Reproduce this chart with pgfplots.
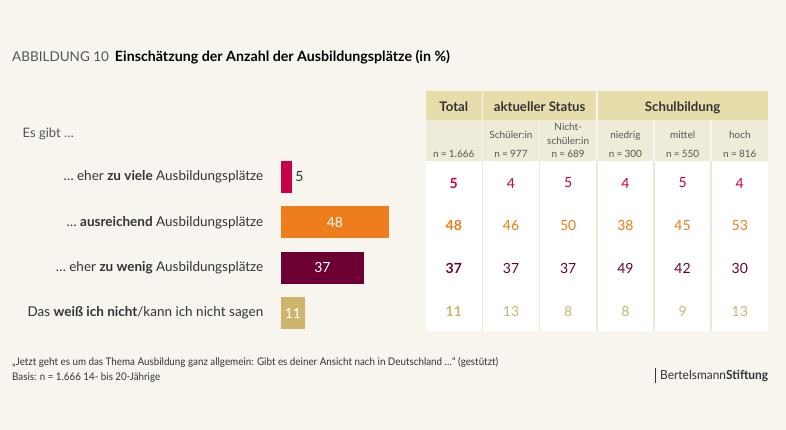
\documentclass[border=0pt]{standalone}
\usepackage{fontspec}
\setmainfont{Lato}
\usepackage{pgfplots}
\pgfplotsset{compat=1.18}
\definecolor{bg}{HTML}{F8F5EE}
\definecolor{crimson}{HTML}{C6004B}
\definecolor{orangeb}{HTML}{EE7D1B}
\definecolor{wine}{HTML}{6C0033}
\definecolor{tan}{HTML}{CDB56D}
\definecolor{hdrone}{HTML}{E6DDAB}
\definecolor{hdrtwo}{HTML}{EEEBD8}
\definecolor{sepc}{HTML}{EEE8D4}
\definecolor{txtdark}{HTML}{333333}
\definecolor{txtgray}{HTML}{555555}
\newcommand{\fs}[1]{\fontsize{#1}{#1}\selectfont}
\newcommand{\nn}[1]{n\hspace{2.2pt}=\hspace{2.2pt}#1}
\begin{document}
\begin{tikzpicture}[x=1pt,y=-1pt]
\fill[bg] (0,0) rectangle (786,430);
% title
\node[anchor=base west, inner sep=0pt] at (12,62)
  {\textcolor{txtgray}{\fs{13.5}ABBILDUNG 10}\hspace{6pt}\textcolor{black}{\fs{14.2}\bfseries Einschätzung der Anzahl der Ausbildungsplätze (in \%)}};
\node[anchor=base west, inner sep=0pt, font=\fs{13}, text=txtgray] at (22.5,138) {Es gibt …};
% table backgrounds
\fill[hdrone] (426,91) rectangle (481.6,120);
\fill[hdrone] (483.2,91) rectangle (596,120);
\fill[hdrone] (597.6,91) rectangle (767.6,120);
\fill[sepc] (426,161.5) rectangle (767.6,330.5);
\foreach \i in {0,...,5} {
  \pgfmathsetmacro\L{426+57.2*\i}
  \fill[hdrtwo] (\L,120) rectangle (\L+55.6,161.5);
  \fill[white] (\L,161.5) rectangle (\L+55.6,330.5);
}
% header texts
\begin{scope}[every node/.style={anchor=base, inner sep=0pt}]
\node[font=\fs{13.2}\bfseries, text=txtdark] at (453.8,111.7) {Total};
\node[font=\fs{13.2}\bfseries, text=txtdark] at (539.6,111.7) {aktueller Status};
\node[font=\fs{13.2}\bfseries, text=txtdark] at (682.6,111.7) {Schulbildung};
\node[font=\fs{10}, text=txtgray] at (511,138.3) {Schüler:in};
\node[font=\fs{10}, text=txtgray] at (568.2,131) {Nicht-};
\node[font=\fs{10}, text=txtgray] at (568.2,145) {schüler:in};
\node[font=\fs{10}, text=txtgray] at (625.4,138.3) {niedrig};
\node[font=\fs{10}, text=txtgray] at (682.6,138.3) {mittel};
\node[font=\fs{10}, text=txtgray] at (739.8,138.3) {hoch};
\node[font=\fs{10}, text=txtgray] at (453.8,157.5) {\nn{1.666}};
\node[font=\fs{10}, text=txtgray] at (511,157.5) {\nn{977}};
\node[font=\fs{10}, text=txtgray] at (568.2,157.5) {\nn{689}};
\node[font=\fs{10}, text=txtgray] at (625.4,157.5) {\nn{300}};
\node[font=\fs{10}, text=txtgray] at (682.6,157.5) {\nn{550}};
\node[font=\fs{10}, text=txtgray] at (739.8,157.5) {\nn{816}};
\end{scope}
% bar chart
\begin{axis}[at={(280.5pt,-154.33pt)}, anchor=north west, scale only axis,
  width=227pt, height=181.33pt, xmin=0, xmax=100, ymin=-0.5, ymax=3.5,
  y dir=reverse, xbar, bar width=32pt, axis line style={draw=none},
  major tick length=0pt, xtick=\empty, ytick={0,1,2,3},
  yticklabels={{… eher \textbf{zu viele} Ausbildungsplätze},
    {… \textbf{ausreichend} Ausbildungsplätze},
    {… eher \textbf{zu wenig} Ausbildungsplätze},
    {Das \textbf{weiß ich nicht}/kann ich nicht sagen}},
  yticklabel style={font=\fs{13.5}, text=txtdark, anchor=east, inner sep=0pt, xshift=-17pt},
  clip=false, /pgf/number format/assume math mode=true,
  nodes near coords, point meta=x,
  every node near coord/.append style={font=\fs{14}},
  visualization depends on={x \as \rawx}]
\addplot[fill=crimson, draw=none, bar shift=0pt,
  every node near coord/.append style={text=txtdark}] coordinates {(5,0)};
\addplot[fill=orangeb, draw=none, bar shift=0pt,
  every node near coord/.append style={text=white, anchor=center, shift={(axis direction cs:-\rawx/2,0)}}] coordinates {(48,1)};
\addplot[fill=wine, draw=none, bar shift=0pt,
  every node near coord/.append style={text=white, anchor=center, shift={(axis direction cs:-\rawx/2,0)}}] coordinates {(37,2)};
\addplot[fill=tan, draw=none, bar shift=0pt,
  every node near coord/.append style={text=white, anchor=center, shift={(axis direction cs:-\rawx/2,0)}}] coordinates {(11,3)};
\end{axis}
% table values
\begin{axis}[at={(425.2pt,-161.67pt)}, anchor=north west, scale only axis,
  width=343.2pt, height=170.67pt, xmin=-0.5, xmax=5.5, ymin=-0.5, ymax=3.5,
  y dir=reverse, hide axis, clip=false, /pgf/number format/assume math mode=true,
  nodes near coords, point meta=explicit,
  every node near coord/.append style={anchor=center, font=\fs{14}}]
\addplot[draw=none, mark=none, every node near coord/.append style={text=crimson, font=\fs{14}\bfseries}] coordinates {(0,0) [5]};
\addplot[draw=none, mark=none, every node near coord/.append style={text=crimson}] coordinates {(1,0) [4] (2,0) [5] (3,0) [4] (4,0) [5] (5,0) [4]};
\addplot[draw=none, mark=none, every node near coord/.append style={text=orangeb, font=\fs{14}\bfseries}] coordinates {(0,1) [48]};
\addplot[draw=none, mark=none, every node near coord/.append style={text=orangeb}] coordinates {(1,1) [46] (2,1) [50] (3,1) [38] (4,1) [45] (5,1) [53]};
\addplot[draw=none, mark=none, every node near coord/.append style={text=wine, font=\fs{14}\bfseries}] coordinates {(0,2) [37]};
\addplot[draw=none, mark=none, every node near coord/.append style={text=wine}] coordinates {(1,2) [37] (2,2) [37] (3,2) [49] (4,2) [42] (5,2) [30]};
\addplot[draw=none, mark=none, every node near coord/.append style={text=tan, font=\fs{14}\bfseries}] coordinates {(0,3) [11]};
\addplot[draw=none, mark=none, every node near coord/.append style={text=tan}] coordinates {(1,3) [13] (2,3) [8] (3,3) [8] (4,3) [9] (5,3) [13]};
\end{axis}
% footer
\node[anchor=base west, inner sep=0pt, text=txtdark] at (12,365.5)
  {\resizebox{486pt}{\height}{\fs{10.5}„Jetzt geht es um das Thema Ausbildung ganz allgemein: Gibt es deiner Ansicht nach in Deutschland …“ (gestützt)}};
\node[anchor=base west, inner sep=0pt, text=txtdark] at (12,380.5)
  {\resizebox{148pt}{\height}{\fs{10.5}Basis: n = 1.666 14- bis 20-Jährige}};
\draw[line width=1.2pt, txtdark] (655.5,367.5) -- (655.5,383);
\node[anchor=base west, inner sep=0pt, text=txtdark] at (660,379.5)
  {\resizebox{108pt}{\height}{\fs{12.5}Bertelsmann\textbf{Stiftung}}};
\end{tikzpicture}
\end{document}
